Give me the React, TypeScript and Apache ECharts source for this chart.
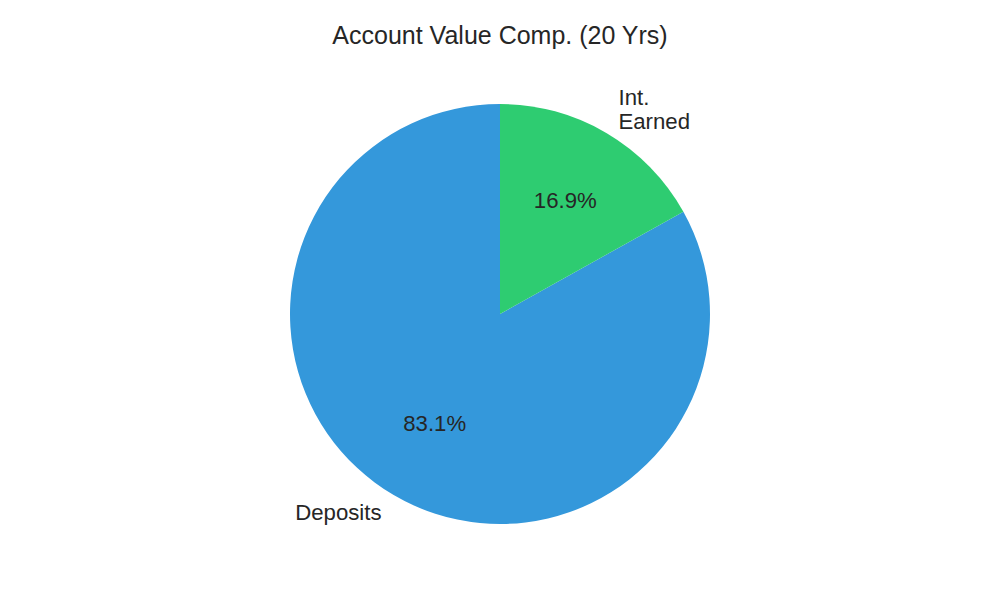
import React, { useEffect, useRef } from "react";
import * as echarts from "echarts";

const titleText = "Account Value Comp. (20 Yrs)";
const categories = ["Deposits", "Int.\nEarned"];
const values = [83.1, 16.9];
const colors = ["#3498db", "#2ecc71"];

export default function App() {
  const ref = useRef<HTMLDivElement>(null);
  useEffect(() => {
    document.body.style.margin = "0";
    const chart = echarts.init(ref.current!, null, { renderer: "svg" });
    const R = 210;
    const center = ["50%", 314];
    const data = categories.map((c, i) => ({ name: c, value: values[i], itemStyle: { color: colors[i] } }));
    const ghostData = categories.map((c, i) => ({ name: c, value: values[i] }));
    const font = "'Liberation Sans', Arial, sans-serif";
    chart.setOption({
      animation: false,
      title: {
        text: titleText,
        left: "center",
        top: 17,
        textStyle: { fontFamily: font, fontSize: 25, fontWeight: "normal", color: "#262626" },
      },
      series: [
        {
          type: "pie",
          center,
          radius: [0, R],
          startAngle: 90,
          clockwise: false,
          silent: true,
          label: { show: false },
          labelLine: { show: false },
          itemStyle: { borderWidth: 0 },
          data,
        },
        {
          type: "pie",
          center,
          radius: [0, R * 1.2],
          startAngle: 90,
          clockwise: false,
          silent: true,
          itemStyle: { color: "transparent", borderWidth: 0 },
          label: {
            show: true,
            position: "inside",
            formatter: (p: any) => values[p.dataIndex].toFixed(1) + "%",
            fontFamily: font,
            fontSize: 22.2,
            color: "#262626",
          },
          labelLine: { show: false },
          labelLayout: (p: any) => {
            const r = p.labelRect;
            return { x: r.x + r.width / 2, y: r.y + r.height / 2 - 2, align: "center", verticalAlign: "middle" };
          },
          data: ghostData,
        },
        {
          type: "pie",
          center,
          radius: [0, R * 2.2],
          startAngle: 90,
          clockwise: false,
          silent: true,
          itemStyle: { color: "transparent", borderWidth: 0 },
          label: {
            show: true,
            position: "inside",
            formatter: "{b}",
            fontFamily: font,
            fontSize: 22.2,
            lineHeight: 24,
            align: "left",
            color: "#262626",
          },
          labelLine: { show: false },
          labelLayout: (p: any) => {
            const r = p.labelRect;
            const cx = r.x + r.width / 2;
            const cy = r.y + r.height / 2;
            const left = cx < 500;
            return { x: cx, y: cy - 3, align: left ? "right" : "left", verticalAlign: "middle" };
          },
          data: ghostData,
        },
      ],
    });
    return () => chart.dispose();
  }, []);
  return <div ref={ref} style={{ width: 1000, height: 600, background: "#fff" }} />;
}
